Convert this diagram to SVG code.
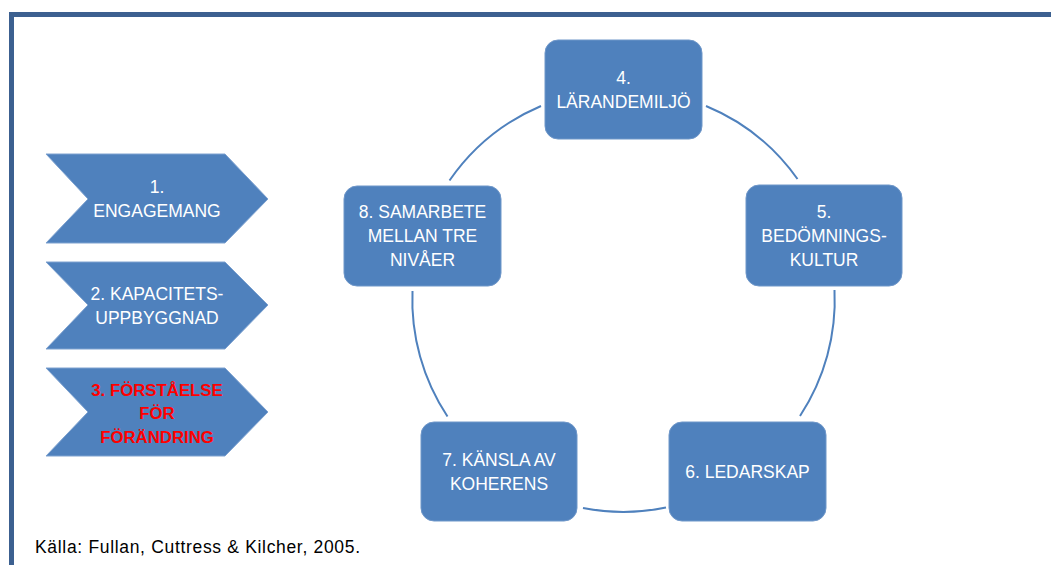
<svg xmlns="http://www.w3.org/2000/svg" width="1051" height="565" viewBox="0 0 1051 565">
<style>
.frame{fill:none;stroke:#3c6090;stroke-width:5}
.chev{fill:#4f81bd;stroke:#7ea2d0;stroke-width:1}
.box{fill:#4f81bd;stroke:#6f97c9;stroke-width:1}
.t{font-family:"Liberation Sans",Arial,sans-serif;font-size:17.5px;fill:#ffffff;text-anchor:middle}
.red{font-family:"Liberation Sans",Arial,sans-serif;font-size:16.8px;font-weight:bold;fill:#ff0000;text-anchor:middle}
.arc{fill:none;stroke:#4f81bd;stroke-width:2}
.cap{font-family:"Liberation Sans",Arial,sans-serif;font-size:17.5px;fill:#000000}
</style>
<rect width="1051" height="565" fill="#ffffff"/>
<path class="frame" d="M11.5 565 V14.5 H1051"/>
<g id="connectors">
<path class="arc" d="M541 106 A211 211 0 0 0 449.5 180.5"/>
<path class="arc" d="M706 106 A211 211 0 0 1 797.5 179"/>
<path class="arc" d="M834.5 290 A211 211 0 0 1 800 416"/>
<path class="arc" d="M666 507.5 A211 211 0 0 1 583 508"/>
<path class="arc" d="M447.5 416.5 A211 211 0 0 1 412.5 291"/>
</g>
<g id="step1">
<polygon class="chev" points="46,154 225,154 268,199 225,243 46,243 88,199"/>
<text class="t" x="157" y="193">1.</text>
<text class="t" x="157" y="217">ENGAGEMANG</text>
</g>
<g id="step2">
<polygon class="chev" points="46,262 225,262 268,305 225,349 46,349 88,305"/>
<text class="t" x="157" y="300">2. KAPACITETS-</text>
<text class="t" x="157" y="324">UPPBYGGNAD</text>
</g>
<g id="step3">
<polygon class="chev" points="46,368 225,368 268,412 225,456 46,456 88,412"/>
<text class="red" x="157" y="396">3. FÖRSTÅELSE</text>
<text class="red" x="157" y="419">FÖR</text>
<text class="red" x="157" y="443">FÖRÄNDRING</text>
</g>
<g id="node4">
<rect class="box" x="545" y="40" width="157" height="99" rx="13"/>
<text class="t" x="623.5" y="84">4.</text>
<text class="t" x="623.5" y="108">LÄRANDEMILJÖ</text>
</g>
<g id="node5">
<rect class="box" x="746" y="185" width="156" height="101" rx="13"/>
<text class="t" x="824" y="218">5.</text>
<text class="t" x="824" y="242">BEDÖMNINGS-</text>
<text class="t" x="824" y="266">KULTUR</text>
</g>
<g id="node6">
<rect class="box" x="669" y="422" width="157" height="99" rx="13"/>
<text class="t" x="747.5" y="478">6. LEDARSKAP</text>
</g>
<g id="node7">
<rect class="box" x="421" y="422" width="156" height="99" rx="13"/>
<text class="t" x="499" y="466">7. KÄNSLA AV</text>
<text class="t" x="499" y="490">KOHERENS</text>
</g>
<g id="node8">
<rect class="box" x="344" y="186" width="157" height="100" rx="13"/>
<text class="t" x="422.5" y="218">8. SAMARBETE</text>
<text class="t" x="422.5" y="242">MELLAN TRE</text>
<text class="t" x="422.5" y="266">NIVÅER</text>
</g>
<text class="cap" x="35" y="553" textLength="325" lengthAdjust="spacing">Källa: Fullan, Cuttress &amp; Kilcher, 2005.</text>
</svg>
